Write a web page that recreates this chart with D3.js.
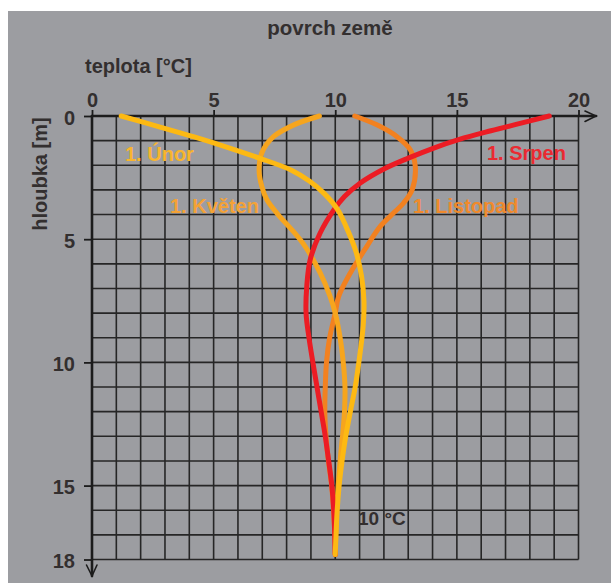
<!DOCTYPE html>
<html>
<head>
<meta charset="utf-8">
<script src="https://cdn.jsdelivr.net/npm/d3@7"></script>
<style>
  html, body { margin: 0; padding: 0; background: #ffffff; }
  svg { display: block; }
  text { font-family: "Liberation Sans", Arial, sans-serif; font-weight: bold; }
</style>
</head>
<body>
<div id="chart"></div>
<script>
// Temperature profile of the ground on the first day of four months.
// Each series is a list of [depth in m, temperature in °C].
const tempTicks = [0, 5, 10, 15, 20];
const depthTicks = [0, 5, 10, 15, 18];

const unor = [[0, 1.2], [0.45, 2.8], [0.85, 4.2], [1.25, 5.5], [1.7, 6.85], [2.2, 8.2],
  [2.65, 8.95], [3.15, 9.55], [3.8, 10.1], [4.5, 10.45], [5.5, 10.85], [6.5, 11.08],
  [7.5, 11.18], [8.5, 11.15], [10, 10.97], [11, 10.82], [12, 10.62], [13, 10.43],
  [14, 10.28], [15, 10.16], [16, 10.08], [17, 10.03], [17.8, 10]];
const kveten = [[0, 9.35], [0.36, 8.3], [0.84, 7.46], [1.5, 6.98], [2.2, 6.87], [2.86, 6.98],
  [3.4, 7.19], [4.08, 7.72], [4.62, 8.22], [5.29, 8.76], [6.37, 9.38], [7.3, 9.78],
  [8, 10.0], [9, 10.2], [10, 10.33], [11, 10.4], [12, 10.38], [13, 10.3], [14, 10.2],
  [15, 10.12], [16, 10.06], [17, 10.02], [17.8, 10]];
const srpen = [[0, 18.8], [0.3, 17.6], [0.6, 16.4], [0.95, 15.1], [1.3, 14.05], [1.71, 13.0],
  [2.15, 12.0], [2.72, 11.03], [3.27, 10.38], [3.8, 9.95], [4.75, 9.38], [5.83, 8.97],
  [6.9, 8.83], [8, 8.8], [9, 8.92], [10, 9.08], [11, 9.25], [12, 9.42], [13, 9.59],
  [14, 9.73], [15, 9.86], [16, 9.94], [17, 9.98], [17.8, 10]];
const listopad = [[0, 10.8], [0.36, 11.71], [0.84, 12.54], [1.38, 13.09], [2.05, 13.29], [3.0, 13.16],
  [3.53, 12.81], [3.87, 12.47], [4.48, 11.85], [5.29, 11.3], [6.37, 10.62], [7.32, 10.14],
  [8, 10.0], [9, 9.77], [10, 9.64], [11, 9.59], [12, 9.57], [13, 9.62], [14, 9.72],
  [15, 9.85], [16, 9.93], [17, 9.98], [17.8, 10]];

const seriesNames = ["1. Listopad", "1. Květen", "1. Srpen", "1. Únor"];
const seriesData = [listopad, kveten, srpen, unor];
const seriesColors = ["#f28120", "#f6a51e", "#ec1c24", "#fdb913"];
const labelColors = ["#f08a2c", "#f4a236", "#ea2a31", "#f8b52e"];
const labelPos = [[413, 213], [170, 213], [487, 160], [125, 161]];

const W = 611, H = 583;
const svg = d3.select("#chart").append("svg").attr("width", W).attr("height", H);

svg.append("rect").attr("x", 8).attr("y", 11).attr("width", W - 8).attr("height", H - 11)
  .attr("fill", "#9c9da1");

const x = d3.scaleLinear().domain([0, 20]).range([92, 578.5]);
const y = d3.scaleLinear().domain([0, 18]).range([116, 559.5]);

const ink = "#332f2f";
const gridColor = "#262626";

// grid
const grid = svg.append("g").attr("stroke", gridColor).attr("stroke-width", 1.6);
grid.selectAll("line.v").data(d3.range(1, 21)).join("line")
  .attr("x1", d => x(d)).attr("x2", d => x(d))
  .attr("y1", y(0)).attr("y2", y(18));
grid.selectAll("line.h").data(d3.range(1, 19)).join("line")
  .attr("y1", d => y(d)).attr("y2", d => y(d))
  .attr("x1", x(0)).attr("x2", x(20));

// axes
const xAxis = svg.append("g").attr("transform", `translate(0,${y(0)})`)
  .call(d3.axisTop(x).tickValues(tempTicks).tickSize(6).tickSizeOuter(0).tickPadding(4));
xAxis.select(".domain").remove();
xAxis.selectAll(".tick line").attr("stroke", "#1c1c1c").attr("stroke-width", 1.8);
xAxis.selectAll(".tick text").attr("fill", ink).attr("font-size", 20)
  .attr("font-family", "'Liberation Sans', Arial, sans-serif").attr("font-weight", "bold")
  .attr("y", -9);

const yAxis = svg.append("g").attr("transform", `translate(${x(0)},0)`)
  .call(d3.axisLeft(y).tickValues(depthTicks).tickSize(8).tickSizeOuter(0).tickPadding(10));
yAxis.select(".domain").remove();
yAxis.selectAll(".tick line").attr("stroke", "#1c1c1c").attr("stroke-width", 1.8);
yAxis.selectAll(".tick text").attr("fill", ink).attr("font-size", 20)
  .attr("font-family", "'Liberation Sans', Arial, sans-serif").attr("font-weight", "bold")
  .attr("x", -17).attr("dy", "0.42em");

const axisG = svg.append("g").attr("stroke", "#1c1c1c").attr("stroke-width", 2.6)
  .attr("fill", "none").attr("stroke-linecap", "round");
axisG.append("line").attr("x1", x(0)).attr("x2", 596).attr("y1", y(0)).attr("y2", y(0));
axisG.append("polyline").attr("stroke-width", 1.6)
  .attr("points", `585,111 596,${y(0)} 585,121.5`);
axisG.append("line").attr("x1", x(0)).attr("x2", x(0)).attr("y1", y(0)).attr("y2", 576);
axisG.append("polyline").attr("stroke-width", 1.6)
  .attr("points", `86.5,565 ${x(0)},576 97,565`);

// curves
const line = d3.line()
  .x(d => x(d[1]))
  .y(d => y(d[0]))
  .curve(d3.curveCatmullRom.alpha(0.5));

svg.append("g").selectAll("path").data(seriesData).join("path")
  .attr("d", d => line(d))
  .attr("fill", "none")
  .attr("stroke", (d, i) => seriesColors[i])
  .attr("stroke-width", 5)
  .attr("stroke-linecap", "round")
  .attr("stroke-linejoin", "round");

// series labels
svg.append("g").selectAll("text").data(seriesNames).join("text")
  .attr("x", (d, i) => labelPos[i][0])
  .attr("y", (d, i) => labelPos[i][1])
  .attr("fill", (d, i) => labelColors[i])
  .attr("font-size", 20)
  .text(d => d);

svg.append("text").attr("x", 358).attr("y", 525).attr("fill", ink)
  .attr("font-size", 19).text("10 °C");

// titles
svg.append("text").attr("x", 330).attr("y", 35).attr("text-anchor", "middle")
  .attr("fill", ink).attr("font-size", 20.5).text("povrch země");
svg.append("text").attr("x", 85).attr("y", 73).attr("fill", ink)
  .attr("font-size", 20).text("teplota [°C]");
svg.append("text").attr("transform", "translate(47,174) rotate(-90)")
  .attr("text-anchor", "middle").attr("fill", ink)
  .attr("font-size", 20).text("hloubka [m]");
</script>
</body>
</html>
